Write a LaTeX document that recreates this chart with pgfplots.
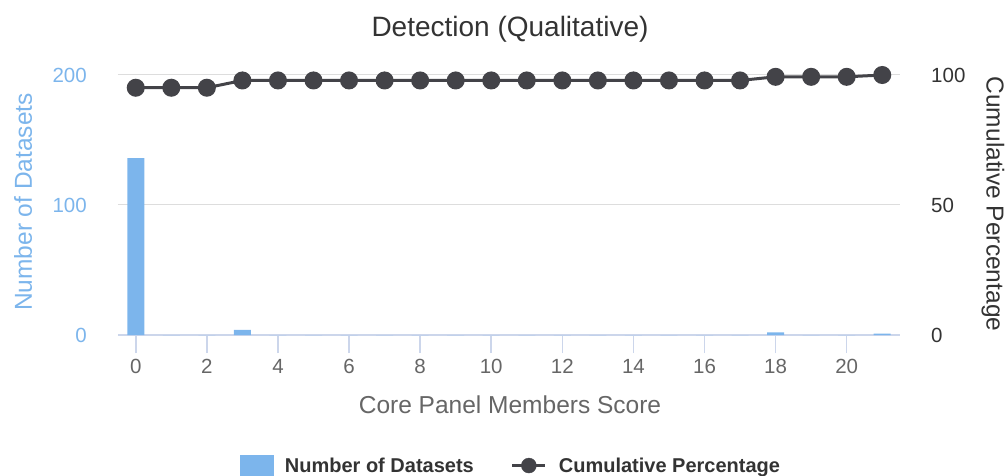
\documentclass[border=0pt]{standalone}
\usepackage{pgfplots}
\pgfplotsset{compat=1.18}
\usepackage{pgfplotstable}
\usepackage{fontspec}
\setmainfont{Liberation Sans}

\definecolor{barblue}{HTML}{7CB5EC}
\definecolor{linegray}{HTML}{434348}
\definecolor{gridgray}{HTML}{DDDDDD}
\definecolor{axisblue}{HTML}{CCD6EB}
\definecolor{labelgray}{HTML}{666666}
\definecolor{titlegray}{HTML}{333333}

% score, number of datasets, cumulative percentage
\pgfplotstableread{
score count cum
0  136 95.1
1  0   95.1
2  0   95.1
3  4   97.9
4  0   97.9
5  0   97.9
6  0   97.9
7  0   97.9
8  0   97.9
9  0   97.9
10 0   97.9
11 0   97.9
12 0   97.9
13 0   97.9
14 0   97.9
15 0   97.9
16 0   97.9
17 0   97.9
18 2   99.3
19 0   99.3
20 0   99.3
21 1   100
}\scoretable

\begin{document}
\begin{tikzpicture}
\useasboundingbox (-118bp,-141bp) rectangle (889bp,335bp);

% bars, left axis
\begin{axis}[
    at={(0,0)}, anchor=south west,
    scale only axis, width=782bp, height=260bp,
    xmin=-0.5, xmax=21.5, ymin=0, ymax=200,
    axis x line*=bottom, axis y line*=left,
    x axis line style={draw=axisblue, line width=1.5bp},
    y axis line style={draw=none},
    xtick={0,2,...,20}, ytick={0,100,200},
    tick align=outside, major tick length=18bp,
    xtick style={draw=axisblue, line width=1.5bp},
    ytick style={draw=none},
    ymajorgrids, grid style={draw=gridgray, line width=1bp},
    /pgf/number format/assume math mode=true,
    xticklabel style={font=\fontsize{20.5bp}{24bp}\selectfont, text=labelgray,
        inner sep=0pt, anchor=north, yshift=-6bp},
    yticklabel style={font=\fontsize{20.5bp}{24bp}\selectfont, text=barblue,
        inner sep=0pt, anchor=east, xshift=-13bp},
]
\addplot[ybar, bar width=17bp, fill=barblue, draw=none]
    table[x=score, y=count] {\scoretable};
\end{axis}

% cumulative line, right axis
\begin{axis}[
    at={(0,0)}, anchor=south west,
    scale only axis, width=782bp, height=260bp,
    xmin=-0.5, xmax=21.5, ymin=0, ymax=100,
    axis x line=none, axis y line*=right,
    y axis line style={draw=none},
    xtick=\empty, ytick={0,50,100},
    ytick style={draw=none},
    /pgf/number format/assume math mode=true,
    yticklabel style={font=\fontsize{20.5bp}{24bp}\selectfont, text=titlegray,
        inner sep=0pt, anchor=west, xshift=31bp},
    legend style={at={(0.501,-0.504)}, anchor=center, draw=none, fill=none,
        legend columns=2, inner sep=0pt,
        font=\bfseries\fontsize{20bp}{24bp}\selectfont, text=titlegray,
        nodes={inner sep=0pt},
        /tikz/every odd column/.append style={column sep=12bp},
        /tikz/every even column/.append style={column sep=37bp}},
]
\addlegendimage{legend image code/.code={\fill[barblue] (0bp,-11bp) rectangle (33bp,10bp);}}
\addlegendentry{Number of Datasets}
\addlegendimage{legend image code/.code={
    \draw[linegray, line width=3bp] (0bp,0bp) -- (33bp,0bp);
    \fill[linegray] (16.5bp,0bp) circle (7.5bp);}}
\addlegendentry{Cumulative Percentage}
\addplot[linegray, line width=3bp, mark=*, mark size=7.5bp,
    mark options={draw=none, fill=linegray}, forget plot]
    table[x=score, y=cum] {\scoretable};
\end{axis}

\node[font=\fontsize{28bp}{32bp}\selectfont, text=titlegray, anchor=base, inner sep=0pt]
    at (392bp,298bp) {Detection (Qualitative)};
\node[rotate=90, font=\fontsize{24.5bp}{28bp}\selectfont, text=barblue, inner sep=0pt]
    at (-95bp,133bp) {Number of Datasets};
\node[rotate=-90, font=\fontsize{24.5bp}{28bp}\selectfont, text=titlegray, inner sep=0pt]
    at (875bp,131bp) {Cumulative Percentage};
\node[font=\fontsize{24.5bp}{28bp}\selectfont, text=labelgray, inner sep=0pt]
    at (392bp,-70bp) {Core Panel Members Score};
\end{tikzpicture}
\end{document}
